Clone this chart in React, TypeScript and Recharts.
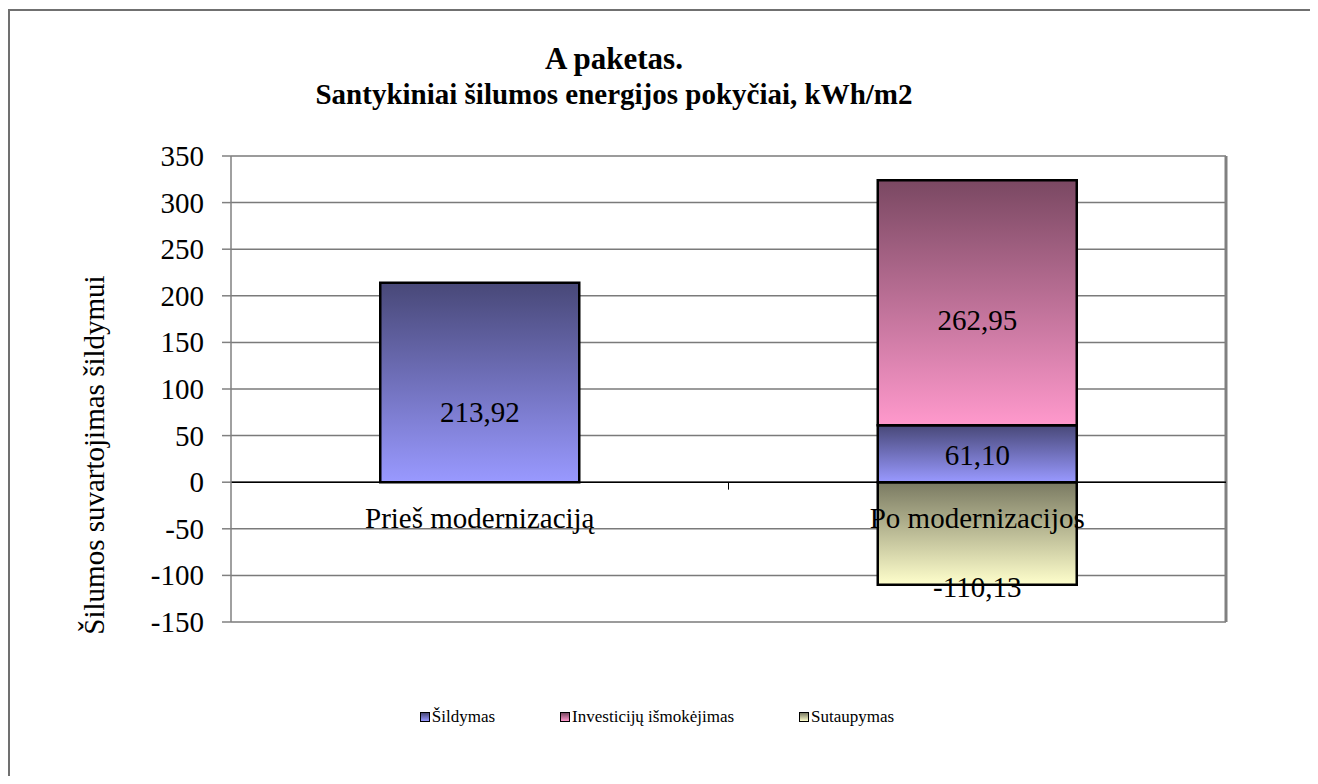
import React from 'react';
import { BarChart, Bar, XAxis, YAxis, CartesianGrid, ReferenceLine, LabelList } from 'recharts';

const categories = ['Prieš modernizaciją', 'Po modernizacijos'];
const sildymas = [213.92, 61.1];
const investicijos = [0, 262.95];
const sutaupymas = [0, -110.13];
const yTicks = [-150, -100, -50, 0, 50, 100, 150, 200, 250, 300, 350];
const seriesNames = ['Šildymas', 'Investicijų išmokėjimas', 'Sutaupymas'];
const seriesColors = [
    ['#484878', '#9999ff'],
    ['#7a4862', '#ff99cc'],
    ['#7a7a62', '#ffffcc'],
];

const data = categories.map((name, i) => ({
    name,
    sildymas: sildymas[i],
    investicijos: investicijos[i],
    sutaupymas: sutaupymas[i],
}));

const FONT = 'Liberation Serif, Times New Roman, serif';
const textStyle = { fontFamily: FONT, fontSize: 29, fill: '#000' };

const fmt = (v) => Number(v).toFixed(2).replace('.', ',');

// value label placed at a fraction of the segment height (as Excel did)
const valueLabel = (ratio, below = 0) => (props) => {
    const { x, y, width, height, value } = props;
    if (!value) return null;
    const top = Math.min(y, y + height);
    const h = Math.abs(height);
    const ty = below ? top + h + below : top + h * ratio;
    return (
        <text x={x + width / 2} y={ty} textAnchor="middle" style={textStyle}>
            {fmt(value)}
        </text>
    );
};

// category name drawn just below the zero line (the bottom of the Šildymas bar)
const categoryLabel = (props) => {
    const { x, y, width, height, value } = props;
    const bottom = Math.max(y, y + height);
    return (
        <text x={x + width / 2} y={bottom + 46} textAnchor="middle" style={textStyle}>
            {value}
        </text>
    );
};

const YTick = (props) => {
    const { x, y, payload } = props;
    return (
        <text x={x} y={y} dy={10} textAnchor="end" style={textStyle}>
            {payload.value}
        </text>
    );
};

const App = () => {
    return (
        <div style={{ position: 'relative', width: 1310, height: 768, overflow: 'hidden', fontFamily: FONT }}>
            <div style={{ position: 'absolute', left: 0, top: 1, width: 1340, height: 800, border: '2px solid #707070', boxSizing: 'border-box' }} />
            <div style={{ position: 'absolute', left: 0, top: 35, width: 1212, textAlign: 'center', fontSize: 31, lineHeight: '31px', fontWeight: 'bold' }}>
                A paketas.
            </div>
            <div style={{ position: 'absolute', left: 0, top: 72, width: 1212, textAlign: 'center', fontSize: 29, lineHeight: '29px', fontWeight: 'bold' }}>
                Santykiniai šilumos energijos pokyčiai, kWh/m2
            </div>
            <div style={{ position: 'absolute', left: 86 - 250, top: 447 - 15, width: 500, height: 30, textAlign: 'center', fontSize: 29, lineHeight: '30px', transform: 'rotate(-90deg)' }}>
                Šilumos suvartojimas šildymui
            </div>
            <div style={{ position: 'absolute', left: 0, top: 0 }}>
                <BarChart
                    width={1300}
                    height={760}
                    data={data}
                    stackOffset="sign"
                    barCategoryGap="30%"
                    margin={{ top: 148, right: 82, bottom: 146, left: 0 }}
                >
                    <defs>
                        {seriesColors.map(([c1, c2], i) => (
                            <linearGradient key={i} id={`g${i}`} x1="0" y1="0" x2="0" y2="1">
                                <stop offset="0%" stopColor={c1} />
                                <stop offset="100%" stopColor={c2} />
                            </linearGradient>
                        ))}
                    </defs>
                    <CartesianGrid vertical={false} stroke="#7a7a7a" strokeWidth={1.5} />
                    <XAxis dataKey="name" height={0} tick={false} tickLine={false} axisLine={{ stroke: '#808080', strokeWidth: 3 }} />
                    <YAxis
                        domain={[-150, 350]}
                        ticks={yTicks}
                        width={223}
                        tickSize={9}
                        tickMargin={18}
                        interval={0}
                        tick={<YTick />}
                        axisLine={{ stroke: '#808080', strokeWidth: 1.5 }}
                        tickLine={{ stroke: '#808080', strokeWidth: 1.5 }}
                    />
                    {/* right edge of the plot area */}
                    <ReferenceLine x={categories[1]} position="end" stroke="#808080" strokeWidth={3} />
                    <ReferenceLine y={0} stroke="#000" strokeWidth={1.5} />
                    {/* small tick mark between the categories on the zero line */}
                    <ReferenceLine
                        position="start"
                        segment={[{ x: categories[1], y: 0 }, { x: categories[1], y: -8 }]}
                        stroke="#000"
                        strokeWidth={1}
                    />
                    {/* negative series first so the category labels of Šildymas are drawn over it */}
                    <Bar dataKey="sutaupymas" name={seriesNames[2]} stackId="a" fill="url(#g2)" stroke="#000" strokeWidth={2.5} isAnimationActive={false}>
                        <LabelList dataKey="sutaupymas" content={valueLabel(0, 12)} />
                    </Bar>
                    <Bar dataKey="sildymas" name={seriesNames[0]} stackId="a" fill="url(#g0)" stroke="#000" strokeWidth={2.5} isAnimationActive={false}>
                        <LabelList dataKey="sildymas" content={valueLabel(0.7)} />
                        <LabelList dataKey="name" content={categoryLabel} />
                    </Bar>
                    <Bar dataKey="investicijos" name={seriesNames[1]} stackId="a" fill="url(#g1)" stroke="#000" strokeWidth={2.5} isAnimationActive={false}>
                        <LabelList dataKey="investicijos" content={valueLabel(0.61)} />
                    </Bar>
                </BarChart>
            </div>
            <div style={{ position: 'absolute', left: 0, top: 699, width: 1298, display: 'flex', justifyContent: 'center', gap: 65, fontSize: 17, lineHeight: '20px' }}>
                {seriesNames.map((n, i) => (
                    <div key={n} style={{ display: 'flex', alignItems: 'center' }}>
                        <span style={{ display: 'inline-block', width: 8, height: 8, border: '1.5px solid #000', background: `linear-gradient(${seriesColors[i][0]}, ${seriesColors[i][1]})`, marginRight: 2 }} />
                        {n}
                    </div>
                ))}
            </div>
        </div>
    );
};

export default App;
